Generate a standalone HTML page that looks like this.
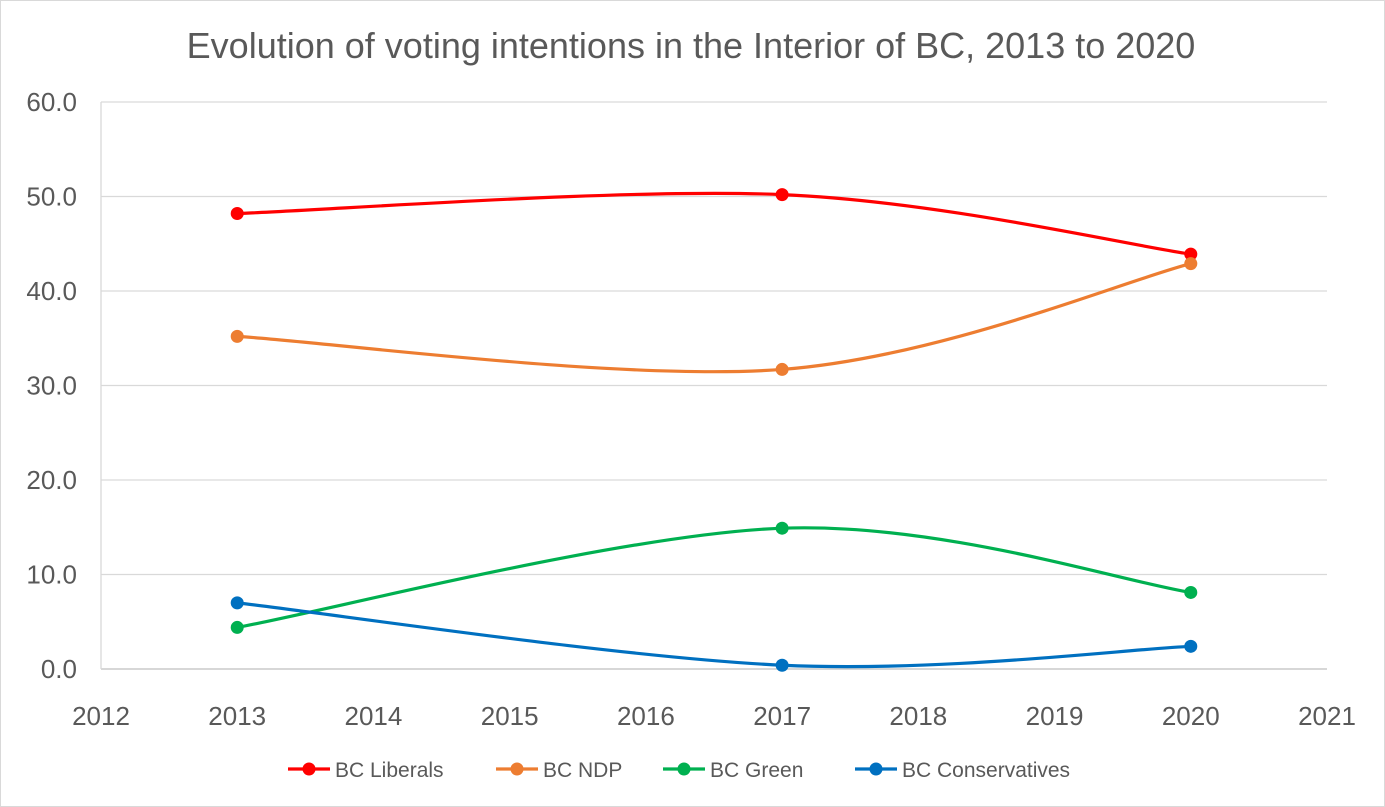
<!DOCTYPE html>
<html><head><meta charset="utf-8"><style>
html,body{margin:0;padding:0;background:#fff}
svg{display:block;font-family:"Liberation Sans",sans-serif}
</style></head><body>
<svg id="chart" width="1385" height="807">
<rect x="0.5" y="0.5" width="1384" height="806" fill="#fff" stroke="#d9d9d9"/>
<text x="691" y="58" text-anchor="middle" font-size="36" fill="#595959">Evolution of voting intentions in the Interior of BC, 2013 to 2020</text>
<g id="grid"></g><g id="series"></g><g id="legend"></g>
</svg>
<script>
const years=[2013,2017,2020];
const liberals=[48.2,50.2,43.9];
const ndp=[35.2,31.7,42.9];
const green=[4.4,14.9,8.1];
const conservatives=[7.0,0.4,2.4];
const yTicks=[0,10,20,30,40,50,60];
const xTicks=[2012,2013,2014,2015,2016,2017,2018,2019,2020,2021];
const seriesNames=["BC Liberals","BC NDP","BC Green","BC Conservatives"];
const seriesColors=["#ff0000","#ed7d31","#00b050","#0070c0"];
const NS="http://www.w3.org/2000/svg";
const X0=101,X1=1327,Y0=669,Y1=102;
const xs=v=>X0+(v-2012)/(2021-2012)*(X1-X0);
const ys=v=>Y0-(v/60)*(Y0-Y1);
function mk(t,a,p){const e=document.createElementNS(NS,t);for(const k in a)e.setAttribute(k,a[k]);p.appendChild(e);return e;}
const grid=document.getElementById('grid');
yTicks.forEach(t=>{
 const l=mk('line',{x1:X0,x2:X1,y1:ys(t),y2:ys(t),stroke:t===0?'#bfbfbf':'#d9d9d9','stroke-width':1.3},grid);
 
 
 const tx=mk('text',{x:77,y:ys(t)+9,'text-anchor':'end','font-size':26,fill:'#595959'},grid);
 tx.textContent=t.toFixed(1);
 
 
});
mk('line',{x1:X0,x2:X0,y1:Y1,y2:Y0,stroke:'#d9d9d9','stroke-width':1.3},grid);
xTicks.forEach(t=>{
 const tx=mk('text',{x:xs(t),y:725,'text-anchor':'middle','font-size':26,fill:'#595959'},grid);
 tx.textContent=t;
 
 
});
const sg=document.getElementById('series');
[liberals,ndp,green,conservatives].forEach((vals,si)=>{
 const P=vals.map((v,i)=>[xs(years[i]),ys(v)]);
 let d='M'+P[0][0]+','+P[0][1];
 for(let i=0;i<P.length-1;i++){
  const p0=P[Math.max(i-1,0)],p1=P[i],p2=P[i+1],p3=P[Math.min(i+2,P.length-1)];
  const c1=[p1[0]+(p2[0]-p0[0])/6,p1[1]+(p2[1]-p0[1])/6];
  const c2=[p2[0]-(p3[0]-p1[0])/6,p2[1]-(p3[1]-p1[1])/6];
  d+=` C${c1[0]},${c1[1]} ${c2[0]},${c2[1]} ${p2[0]},${p2[1]}`;
 }
 const path=mk('path',{d:d,fill:'none',stroke:seriesColors[si],'stroke-width':3.2},sg);
 
 
 P.forEach(p=>{
  const c=mk('circle',{cx:p[0],cy:p[1],r:6.5,fill:seriesColors[si]},sg);
  
  
 });
});
const lg=document.getElementById('legend');
const lx=[288,496,663,855];
seriesNames.forEach((n,i)=>{
 mk('line',{x1:lx[i],x2:lx[i]+42,y1:769,y2:769,stroke:seriesColors[i],'stroke-width':3.2},lg);
 mk('circle',{cx:lx[i]+21,cy:769,r:6.5,fill:seriesColors[i]},lg);
 const t=mk('text',{x:lx[i]+47,y:777,'font-size':21,fill:'#595959'},lg);
 t.textContent=n;
 
 
});
</script>
</body></html>
